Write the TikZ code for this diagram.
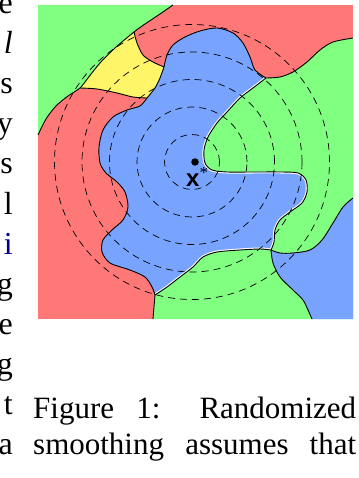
\documentclass[tikz,border=0pt]{standalone}
\usepackage{fontspec}
\setmainfont{Liberation Serif}
\setsansfont{Liberation Sans}
\usepackage{xcolor}
\usetikzlibrary{positioning}
\definecolor{mapred}{RGB}{255,120,120}
\definecolor{mapgreen}{RGB}{128,255,128}
\definecolor{mapblue}{RGB}{120,164,255}
\definecolor{mapyellow}{RGB}{255,245,105}
\definecolor{linkblue}{RGB}{0,0,140}

\begin{document}
\begin{tikzpicture}[x=1pt, y=-1pt,
    border/.style={line width=0.9pt, black},
    halo/.style={line width=3pt, white},
    ring/.style={draw, line width=0.7pt, dash pattern=on 7pt off 5pt},
    colletter/.style={anchor=base east, inner sep=0pt, font=\fontsize{32}{32}\selectfont},
    capline/.style={anchor=base west, inner sep=0pt, font=\fontsize{31}{31}\selectfont}
]
\useasboundingbox (0,0) rectangle (358,478);

% regions
\fill[mapred] (38,5) rectangle (353,319);
\fill[mapgreen] (38,5) -- (173,5) -- plot[smooth] coordinates {(173,5) (160,14) (145,24) (134,32) (115,48) (100,63) (88,78) (80,88) (68,96) (56,106) (46,119) (38,135)} -- cycle;
\fill[mapgreen] plot[smooth] coordinates {(266,78) (280,77) (293,72) (307,62) (320,50) (333,42) (353,38)} -- (353,319) -- (153,319)
  -- plot[smooth] coordinates {(153,319) (154,307) (155,295)} -- (200,200) -- (190,120) -- (240,60) -- cycle;
\fill[mapyellow] plot[smooth] coordinates {(80,88) (97,89) (117,93) (133,97) (147,98)}
  -- plot[smooth] coordinates {(147,98) (155,88) (160,78) (164,67)}
  -- plot[smooth] coordinates {(164,67) (153,62) (143,55) (137,43) (134,32)}
  -- plot[smooth] coordinates {(134,32) (115,48) (100,63) (88,78) (80,88)} -- cycle;
\fill[mapblue] plot[smooth] coordinates {(353,198) (343,207) (333,223) (322,240) (310,250) (293,253) (280,253) (271,250)}
  -- plot[smooth] coordinates {(271,250) (273,263) (280,277) (293,290) (303,300) (308,310) (312,319)} -- (353,319) -- cycle;
\begin{scope}
  \clip plot[smooth] coordinates {(164,67) (167,55) (173,45) (185,37) (200,31) (217,28) (233,33) (243,43) (250,57) (255,70) (266,78)}
    -- plot[smooth] coordinates {(266,78) (253,88) (240,98) (227,112) (217,123) (208,137) (204,150) (205,163) (212,170) (227,172) (253,172) (280,172) (298,173) (306,180) (307,192) (302,203) (290,212) (280,220) (275,230) (274,242) (271,250)}
    -- plot[smooth] coordinates {(271,250) (260,249) (240,250) (217,252) (203,257) (193,267) (180,277) (167,287) (155,295)}
    -- plot[smooth] coordinates {(155,295) (152,287) (145,277) (130,270) (110,263) (102,252) (103,240) (112,230) (123,220) (128,207) (125,192) (117,182) (106,173) (100,163) (99,147) (103,130) (113,117) (127,110) (140,106) (147,98)}
    -- plot[smooth] coordinates {(147,98) (155,88) (160,78) (164,67)} -- cycle;
  \fill[mapblue] (38,5) rectangle (353,319);
  \draw[halo] plot[smooth] coordinates {(266,78) (253,88) (240,98) (227,112) (217,123) (208,137) (204,150) (205,163) (212,170) (227,172) (253,172) (280,172) (298,173) (306,180) (307,192) (302,203) (290,212) (280,220) (275,230) (274,242) (271,250)};
  \draw[halo] plot[smooth] coordinates {(271,250) (260,249) (240,250) (217,252) (203,257) (193,267) (180,277) (167,287) (155,295)};
\end{scope}

% boundaries
\draw[border] plot[smooth] coordinates {(173,5) (160,14) (145,24) (134,32) (115,48) (100,63) (88,78) (80,88) (68,96) (56,106) (46,119) (38,135)};
\draw[border] plot[smooth] coordinates {(164,67) (153,62) (143,55) (137,43) (134,32)};
\draw[border] plot[smooth] coordinates {(147,98) (155,88) (160,78) (164,67)};
\draw[border] plot[smooth] coordinates {(80,88) (97,89) (117,93) (133,97) (147,98)};
\draw[border] plot[smooth] coordinates {(164,67) (167,55) (173,45) (185,37) (200,31) (217,28) (233,33) (243,43) (250,57) (255,70) (266,78)};
\draw[border] plot[smooth] coordinates {(266,78) (280,77) (293,72) (307,62) (320,50) (333,42) (353,38)};
\draw[border] plot[smooth] coordinates {(266,78) (253,88) (240,98) (227,112) (217,123) (208,137) (204,150) (205,163) (212,170) (227,172) (253,172) (280,172) (298,173) (306,180) (307,192) (302,203) (290,212) (280,220) (275,230) (274,242) (271,250)};
\draw[border] plot[smooth] coordinates {(271,250) (260,249) (240,250) (217,252) (203,257) (193,267) (180,277) (167,287) (155,295)};
\draw[border] plot[smooth] coordinates {(155,295) (152,287) (145,277) (130,270) (110,263) (102,252) (103,240) (112,230) (123,220) (128,207) (125,192) (117,182) (106,173) (100,163) (99,147) (103,130) (113,117) (127,110) (140,106) (147,98)};
\draw[border] plot[smooth] coordinates {(153,319) (154,307) (155,295)};
\draw[border] plot[smooth] coordinates {(353,198) (343,207) (333,223) (322,240) (310,250) (293,253) (280,253) (271,250)};
\draw[border] plot[smooth] coordinates {(271,250) (273,263) (280,277) (293,290) (303,300) (308,310) (312,319)};

% level rings around x*
\path[ring] (192,162) circle[radius=27.5pt];
\path[ring] (192,162) circle[radius=55pt];
\path[ring] (192,162) circle[radius=82.5pt];
\path[ring] (192,162) circle[radius=110pt];
\path[ring] (192,162) circle[radius=137.5pt];

\node[circle, fill, inner sep=0pt, minimum size=7.5pt] (xdot) at (195,162) {};
\node[anchor=base west, inner sep=0pt] (xlabel) at (186,186)
  {{\fontsize{24}{24}\selectfont\sffamily\bfseries x}{\fontsize{17}{17}\selectfont\raisebox{8pt}{*}}};

% cut-off column text
\node[colletter] (lt1)  at (13,14)  {e};
\node[colletter] (lt2)  at (13,54)  {\itshape l};
\node[colletter] (lt3)  at (13,94)  {s};
\node[colletter] (lt4)  at (13,134) {y};
\node[colletter] (lt5)  at (13,174) {s};
\node[colletter] (lt6)  at (13,214) {l};
\node[colletter, text=linkblue] (lt7) at (13,254) {i};
\node[colletter] (lt8)  at (13,294) {g};
\node[colletter] (lt9)  at (13,334) {e};
\node[colletter] (lt10) at (13,374) {g};
\node[colletter] (lt11) at (13,414) {t};
\node[colletter] (lt12) at (13,454) {a};

% caption
\node[capline] (capone) at (33,418) {\makebox[323pt][s]{Figure 1: Randomized}};
\node[capline] (captwo) at (33,454) {\makebox[323pt][s]{smoothing assumes that}};
\end{tikzpicture}
\end{document}
